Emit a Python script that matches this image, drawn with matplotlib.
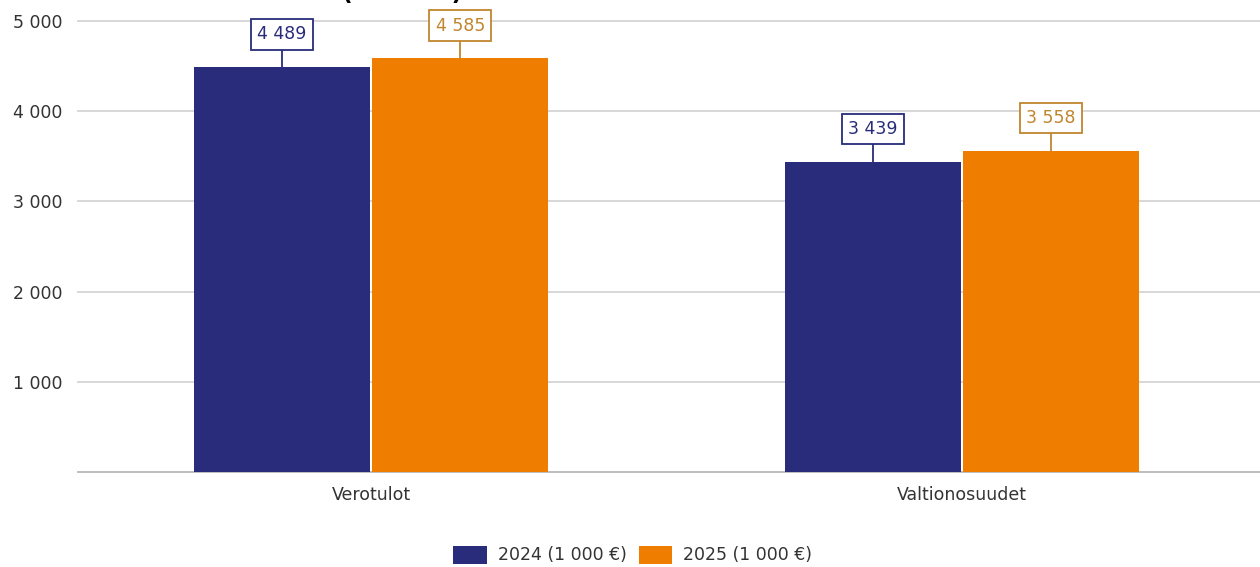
import matplotlib
matplotlib.use("Agg")
import matplotlib.pyplot as plt
import numpy as np

categories = ["Verotulot", "Valtionosuudet"]
values_2024 = [4489, 3439]
values_2025 = [4585, 3558]
series_labels = ["2024 (1 000 €)", "2025 (1 000 €)"]
yticks = [1000, 2000, 3000, 4000, 5000]
ytick_labels = ["1 000", "2 000", "3 000", "4 000", "5 000"]

c24 = "#282c7a"
c25 = "#ef7d00"
c25_text = "#c0862e"
fs = 12.5

def fmt(v):
    return f"{v:,}".replace(",", " ")

fig = plt.figure(figsize=(12.6, 5.67), dpi=100)
ax = fig.add_axes([78/1260, 1-472/567, 1-78/1260, (472-21)/567])
x = np.arange(len(categories))
w = 0.298
gap = 0.0017
b1 = ax.bar(x - w/2 - gap, values_2024, w, color=c24, label=series_labels[0], zorder=3)
b2 = ax.bar(x + w/2 + gap, values_2025, w, color=c25, label=series_labels[1], zorder=3)
ax.set_xlim(-0.496, 1.504)
ax.set_ylim(0, 5000)
ax.set_yticks(yticks)
ax.set_yticklabels(ytick_labels)
ax.set_xticks(x)
ax.set_xticklabels(categories)
ax.grid(axis="y", color="#d4d4d4", linewidth=1.3, zorder=0)
for gl in ax.get_ygridlines():
    gl.set_clip_on(False)
for s in ["top", "right", "left"]:
    ax.spines[s].set_visible(False)
ax.spines["bottom"].set_color("#b8b8b8")
ax.spines["bottom"].set_linewidth(1.3)
ax.tick_params(axis="both", length=0, labelsize=fs, colors="#333333")
ax.tick_params(axis="y", pad=11)
ax.tick_params(axis="x", pad=10)

offset = 195
pad = 0.36
for bars, vals, tc, ec in [(b1, values_2024, c24, c24), (b2, values_2025, c25_text, c25_text)]:
    for rect, v in zip(bars, vals):
        cx = rect.get_x() + rect.get_width()/2
        ax.plot([cx, cx], [v, v + offset], color=ec, linewidth=1.3, zorder=4, clip_on=False)
        ax.annotate(fmt(v), xy=(cx, v + offset), xytext=(0, pad*fs), textcoords="offset points",
                    ha="center", va="bottom", fontsize=fs, color=tc, zorder=5,
                    annotation_clip=False,
                    bbox=dict(boxstyle=f"square,pad={pad}", fc="white", ec=ec, lw=1.3))

fig.text(0.319, 1 - 5/567, "(1 000 €)", ha="center", va="bottom", fontsize=17,
         fontweight="bold", color="#000000")

fig.legend(handles=[b1, b2], labels=series_labels, loc="center", bbox_to_anchor=(0.502, 1-555/567),
           ncol=2, frameon=False, fontsize=fs, handlelength=1.94, handleheight=1.22,
           handletextpad=0.6, columnspacing=0.7, labelcolor="#333333")

fig.savefig("out.png", dpi=100)
